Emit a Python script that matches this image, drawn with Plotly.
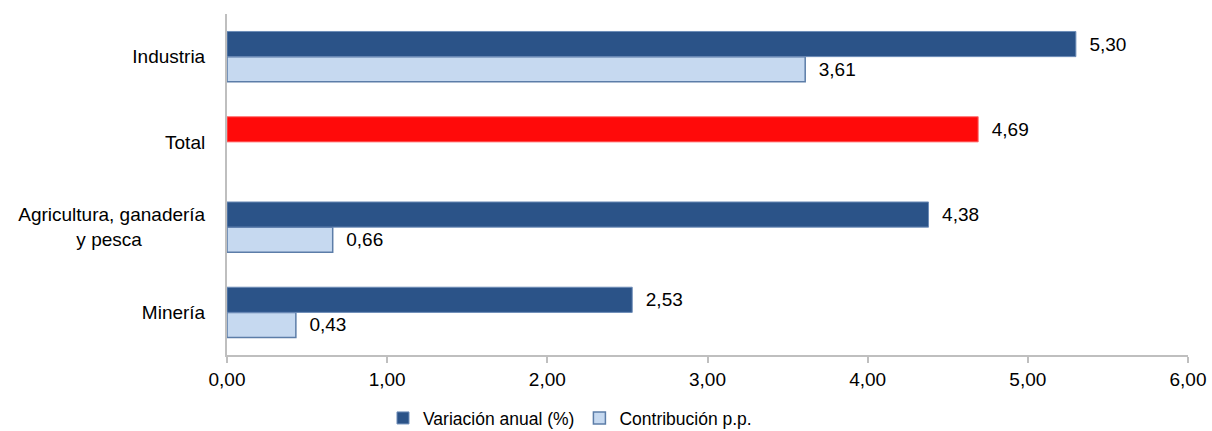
import plotly.graph_objects as go

NB = "\u00a0"
categories = ["Minería", "Agricultura, ganadería<br>y pesca" + NB * 12, "Total", "Industria"]
variacion = [2.53, 4.38, 4.69, 5.30]
contribucion = [0.43, 0.66, None, 3.61]
tick_vals = [0, 1, 2, 3, 4, 5, 6]

DARK = "#2B5388"
LIGHT = "#C6D9F0"
RED = "#FF0A0A"
FS = 19

var_colors = [RED if c == "Total" else DARK for c in categories]
var_lines = ["#FF7070" if c == "Total" else "#6E8DB8" for c in categories]

fig = go.Figure()
fig.add_trace(go.Bar(
    y=categories, x=contribucion, orientation="h", name="Contribución p.p.",
    marker=dict(color=LIGHT, line=dict(color="#5C7DA8", width=1.5)),
    texttemplate=NB * 2 + "%{x:.2f}", textposition="outside",
    textfont=dict(color="black", size=FS), cliponaxis=False, legendrank=2,
))
fig.add_trace(go.Bar(
    y=categories, x=variacion, orientation="h", name="Variación anual (%)",
    marker=dict(color=var_colors, line=dict(color=var_lines, width=1)),
    texttemplate=NB * 2 + "%{x:.2f}", textposition="outside",
    textfont=dict(color="black", size=FS), cliponaxis=False, legendrank=1,
))

fig.update_layout(
    width=1212, height=431,
    margin=dict(l=227, r=24, t=14, b=76, autoexpand=False),
    barmode="group", bargap=0.41, bargroupgap=0,
    separators=",.",
    plot_bgcolor="white", paper_bgcolor="white",
    font=dict(family="Liberation Sans, Arial, sans-serif", size=FS, color="black"),
    showlegend=True,
    legend=dict(orientation="h", xref="container", yref="container",
                x=0.316, xanchor="left", y=0.03, yanchor="middle",
                font=dict(size=17.5), itemclick=False, bgcolor="rgba(0,0,0,0)"),
)
fig.update_xaxes(range=[0, 6], tickvals=tick_vals, tickformat=".2f",
                 showgrid=False, zeroline=False, showline=True, linecolor="#BFBFBF", linewidth=2,
                 ticks="outside", ticklen=6, tickcolor="#BFBFBF", tickwidth=1.5,
                 ticklabelstandoff=0)
fig.update_yaxes(showgrid=False, zeroline=False, showline=True, linecolor="#BFBFBF", linewidth=2,
                 ticks="", ticklabelstandoff=16, range=[-0.5, 3.5])

fig.write_html("out.html", config={"displayModeBar": False},
               post_script="document.body.style.margin='0';")
